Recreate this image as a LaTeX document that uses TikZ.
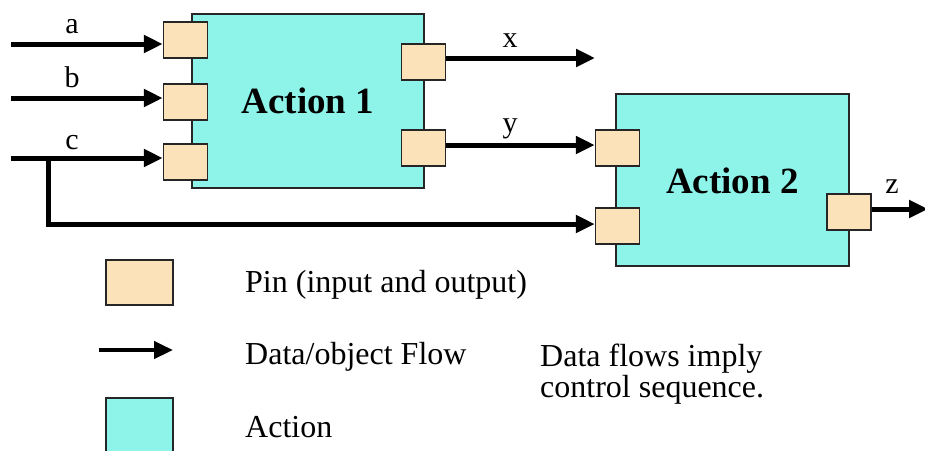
\documentclass[tikz,border=0pt]{standalone}
\usepackage{fontspec}
\setmainfont{Liberation Serif}
\usetikzlibrary{arrows.meta}
\definecolor{actfill}{RGB}{142,244,234}
\definecolor{pinfill}{RGB}{252,226,184}
\tikzset{
  actionbox/.style={draw=black!85,line width=1.5pt,fill=actfill,inner sep=0pt},
  pinbox/.style={draw=black!85,line width=1.5pt,fill=pinfill,inner sep=0pt,minimum width=44pt,minimum height=36pt},
  flow/.style={line width=5pt,-{Triangle[length=19pt,width=17pt]}},
  lbl/.style={font=\fontsize{30}{30}\selectfont,anchor=base,inner sep=0pt},
  legtext/.style={font=\fontsize{32}{32}\selectfont,anchor=base west,inner sep=0pt},
  acttext/.style={font=\bfseries\fontsize{37}{37}\selectfont,anchor=base,inner sep=0pt},
}
\begin{document}
\begin{tikzpicture}[x=1pt,y=-1pt]
\useasboundingbox (0,0) rectangle (925,450);
% actions
\node[actionbox,minimum width=232pt,minimum height=174pt] (act1) at (308,101) {};
\node[actionbox,minimum width=233pt,minimum height=172pt] (act2) at (732.5,180) {};
\node[acttext] (t1) at (308,113) {Action 1};
\node[acttext] (t2) at (732.5,193) {Action 2};
% pins
\node[pinbox] (pa) at (185.5,40) {};
\node[pinbox] (pb) at (185.5,102) {};
\node[pinbox] (pc) at (185.5,162) {};
\node[pinbox] (px) at (423.5,62) {};
\node[pinbox] (py) at (423.5,148) {};
\node[pinbox] (p2a) at (617.5,148) {};
\node[pinbox] (p2b) at (617.5,226) {};
\node[pinbox] (pz) at (849,212) {};
% free ends
\coordinate (ia) at (11,44);
\coordinate (ib) at (11,98);
\coordinate (ic) at (11,158);
\coordinate (cb) at (48,158);
\coordinate (ex) at (595,58);
\coordinate (ez) at (928,209);
% flows
\draw[flow] (ia) -- (ia -| pa.west);
\draw[flow] (ib) -- (ib -| pb.west);
\draw[flow] (ic) -- (ic -| pc.west);
\draw[flow] (cb) |- ([yshift=2pt]p2b.west);
\draw[flow] (ex -| px.east) -- (ex);
\draw[flow] ([yshift=3pt]py.east) -- ([yshift=3pt]p2a.west);
\draw[flow] (ez -| pz.east) -- (ez);
% labels
\node[lbl] (la) at (72,33) {a};
\node[lbl] (lb) at (72,87) {b};
\node[lbl] (lc) at (72,149) {c};
\node[lbl] (lx) at (510,47) {x};
\node[lbl] (ly) at (510,132) {y};
\node[lbl] (lz) at (892,193) {z};
% legend
\node[pinbox,minimum width=67pt,minimum height=45pt] (lpin) at (139.5,282.5) {};
\coordinate (lf1) at (99,350);
\coordinate (lf2) at (173,350);
\draw[flow,line width=4.5pt] (lf1) -- (lf2);
\node[actionbox,minimum width=67pt,minimum height=60pt] (lact) at (139.5,428) {};
\node[legtext] (tpin) at (245,292) {Pin (input and output)};
\node[legtext] (tflow) at (245,364) {Data/object Flow};
\node[legtext] (tact) at (245,437) {Action};
\node[legtext] (tn1) at (540,366) {Data flows imply};
\node[legtext] (tn2) at (540,397) {control sequence.};
\end{tikzpicture}
\end{document}
